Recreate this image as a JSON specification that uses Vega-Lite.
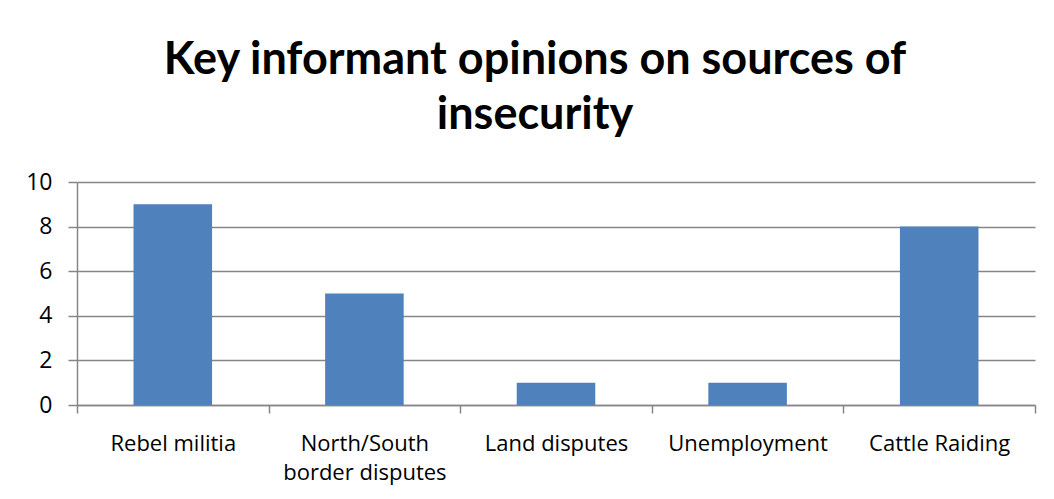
{
  "$schema": "https://vega.github.io/schema/vega-lite/v6.json",
  "autosize": {"type": "none"},
  "padding": {"left": 77, "top": 182, "right": 19, "bottom": 94},
  "width": 958,
  "height": 223,
  "background": "white",
  "title": {
    "text": ["Key informant opinions on sources of", "insecurity"],
    "anchor": "middle",
    "dx": -21,
    "font": "Lato",
    "fontSize": 45,
    "fontWeight": "bold",
    "color": "#000000",
    "lineHeight": 55,
    "offset": 33
  },
  "data": {
    "values": [
      {"source": "Rebel militia", "count": 9},
      {"source": "North/South border disputes", "count": 5},
      {"source": "Land disputes", "count": 1},
      {"source": "Unemployment", "count": 1},
      {"source": "Cattle Raiding", "count": 8}
    ]
  },
  "mark": {"type": "bar", "color": "#4F81BD", "width": {"band": 0.41}},
  "encoding": {
    "x": {
      "field": "source",
      "type": "nominal",
      "sort": null,
      "title": null,
      "scale": {"paddingInner": 0, "paddingOuter": 0},
      "axis": {
        "tickBand": "extent",
        "labelAngle": 0,
        "labelFont": "Open Sans",
        "labelFontSize": 22,
        "labelColor": "#000000",
        "labelPadding": 20,
        "labelLineHeight": 29,
        "labelExpr": "datum.label == 'North/South border disputes' ? ['North/South', 'border disputes'] : datum.label",
        "domainColor": "#868686",
        "domainWidth": 1.5,
        "tickColor": "#868686",
        "tickWidth": 1.5,
        "tickSize": 8,
        "grid": false
      }
    },
    "y": {
      "field": "count",
      "type": "quantitative",
      "title": null,
      "scale": {"domain": [0, 10], "nice": false},
      "axis": {
        "values": [0, 2, 4, 6, 8, 10],
        "labelFont": "Open Sans",
        "labelFontSize": 23,
        "labelColor": "#000000",
        "labelPadding": 16,
        "domainColor": "#868686",
        "domainWidth": 1.5,
        "tickColor": "#868686",
        "tickWidth": 1.5,
        "tickSize": 9,
        "grid": true,
        "gridColor": "#868686",
        "gridWidth": 1.5
      }
    }
  },
  "config": {"view": {"stroke": null}}
}
